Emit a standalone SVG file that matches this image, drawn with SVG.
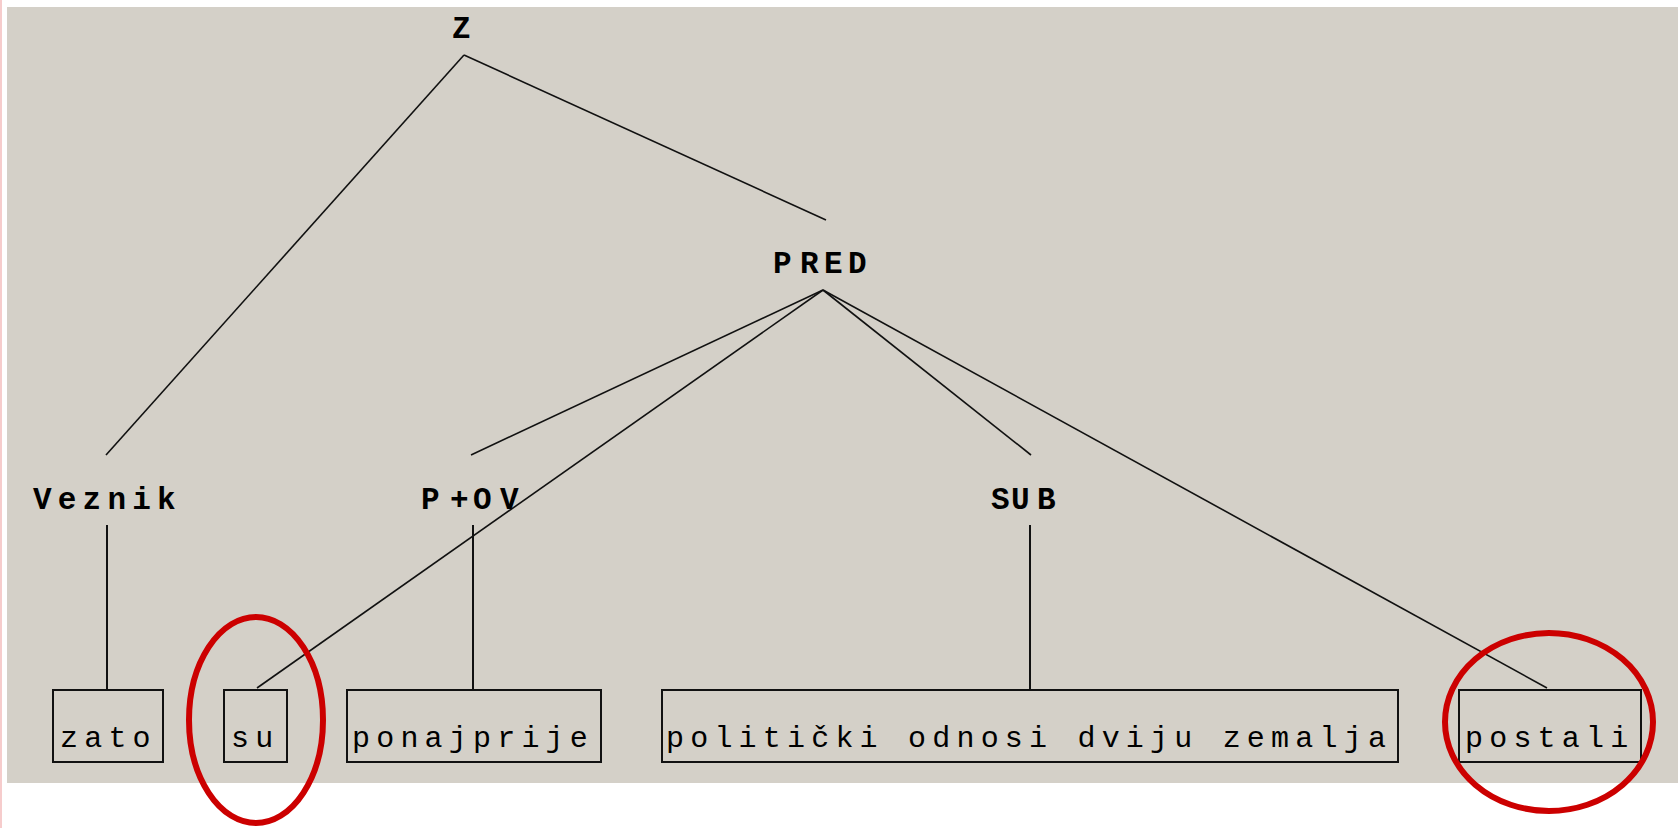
<svg xmlns="http://www.w3.org/2000/svg" width="1678" height="828" viewBox="0 0 1678 828">
<style>
.lbl{font-family:"Liberation Mono","Courier New",monospace;font-weight:bold;font-size:31px;fill:#000}
.leaf{font-family:"Liberation Mono","Courier New",monospace;font-size:30px;letter-spacing:6.2px;fill:#000}
.box{fill:none;stroke:#111;stroke-width:2}
.diag{stroke:#111;stroke-width:1.6;fill:none}
.vert{stroke:#111;stroke-width:2;fill:none}
.mark{fill:none;stroke:#cc0000;stroke-width:6}
</style>
<rect x="0" y="0" width="1678" height="828" fill="#ffffff"/>
<rect x="7" y="7" width="1671" height="776" fill="#d4d0c8"/>
<line x1="1" y1="0" x2="1" y2="828" stroke="#f6cccc" stroke-width="2"/>
<g id="connectors">
<line class="diag" x1="464" y1="55" x2="106" y2="455"/>
<line class="diag" x1="464" y1="55" x2="826" y2="220"/>
<line class="diag" x1="823" y1="290" x2="471" y2="455"/>
<line class="diag" x1="823" y1="290" x2="257" y2="688"/>
<line class="diag" x1="823" y1="290" x2="1031" y2="455"/>
<line class="diag" x1="823" y1="290" x2="1547" y2="688"/>
<line class="vert" x1="107" y1="525" x2="107" y2="690"/>
<line class="vert" x1="473" y1="525" x2="473" y2="690"/>
<line class="vert" x1="1030" y1="525" x2="1030" y2="690"/>
</g>
<g id="Z"><text class="lbl" x="452" y="38">Z</text></g>
<g id="PRED"><text class="lbl" x="773 800 824 848" y="273">PRED</text></g>
<g id="Veznik"><text class="lbl" x="33" y="509" letter-spacing="6.2">Veznik</text></g>
<g id="POV"><text class="lbl" x="421 450 473 500" y="509">P+OV</text></g>
<g id="SUB"><text class="lbl" x="991 1011 1037" y="509">SUB</text></g>
<g id="zato"><rect class="box" x="53" y="690" width="110" height="72"/><text class="leaf" x="60" y="747">zato</text></g>
<g id="su"><rect class="box" x="224" y="690" width="63" height="72"/><text class="leaf" x="231" y="747">su</text></g>
<g id="ponajprije"><rect class="box" x="347" y="690" width="254" height="72"/><text class="leaf" x="352" y="747">ponajprije</text></g>
<g id="politicki"><rect class="box" x="662" y="690" width="736" height="72"/><text class="leaf" x="666" y="747">politički odnosi dviju zemalja</text></g>
<g id="postali"><rect class="box" x="1459" y="690" width="182" height="72"/><text class="leaf" x="1465" y="747">postali</text></g>
<g id="highlights">
<ellipse class="mark" cx="256" cy="720" rx="67" ry="103"/>
<ellipse class="mark" cx="1549" cy="722" rx="104" ry="89"/>
</g>
</svg>
